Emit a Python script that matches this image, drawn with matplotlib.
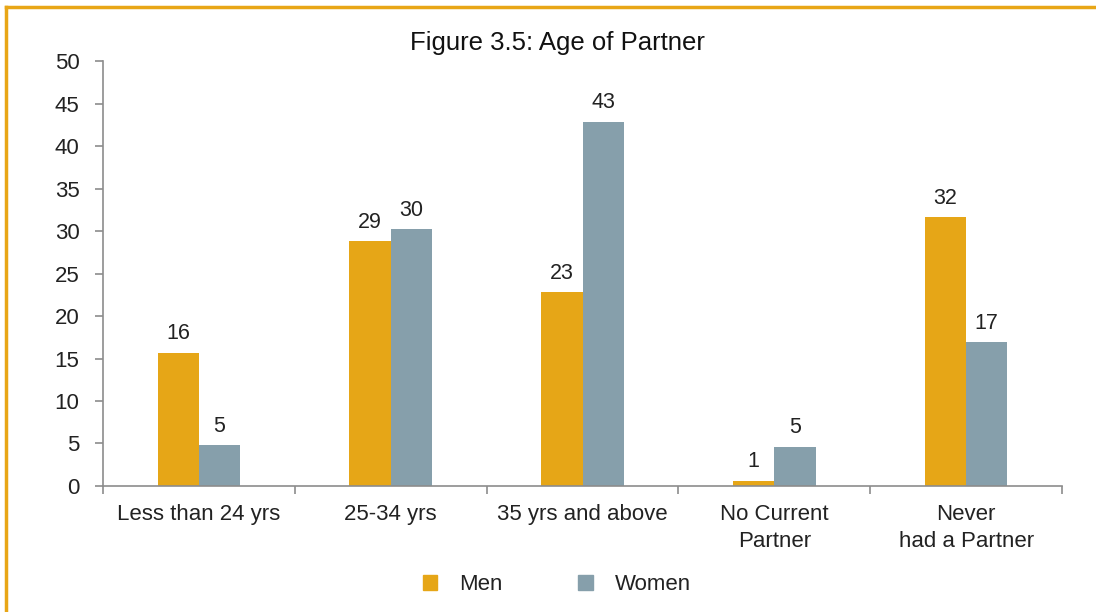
import matplotlib.pyplot as plt
import numpy as np
from matplotlib.lines import Line2D
from matplotlib.patches import Patch

# data
categories = ['Less than 24 yrs', '25-34 yrs', '35 yrs and above', 'No Current\nPartner', 'Never\nhad a Partner']
men = [15.7, 28.8, 22.8, 0.6, 31.6]
women = [4.8, 30.2, 42.9, 4.6, 16.9]
men_labels = ['16', '29', '23', '1', '32']
women_labels = ['5', '30', '43', '5', '17']

men_color = '#E6A617'
women_color = '#869FAB'
axis_color = '#8c8c8c'
text_color = '#222222'

plt.rcParams['font.family'] = ['Liberation Sans', 'DejaVu Sans']

fig = plt.figure(figsize=(10.96, 6.12), dpi=100)
ax = fig.add_axes([0.094, 0.206, 0.875, 0.694])

x = np.arange(len(categories))
w = 0.215
b1 = ax.bar(x - w / 2, men, w, color=men_color, label='Men')
b2 = ax.bar(x + w / 2, women, w, color=women_color, label='Women')

# value labels above the bars
for bars, labs in ((b1, men_labels), (b2, women_labels)):
    for bar, lab in zip(bars, labs):
        ax.text(bar.get_x() + bar.get_width() / 2, bar.get_height() + 1.0, lab,
                ha='center', va='bottom', fontsize=15.5, color=text_color)

ax.set_xlim(-0.5, len(categories) - 0.5)
ax.set_ylim(0, 50)
ax.set_yticks(range(0, 51, 5))
ax.set_xticks(np.arange(-0.5, len(categories), 1.0))
ax.set_xticklabels([])
ax.set_xticks(x, minor=True)
ax.set_xticklabels(categories, minor=True, fontsize=16, color=text_color, linespacing=1.35)
ax.tick_params(axis='x', which='minor', length=0, pad=13)
ax.tick_params(axis='x', which='major', length=6, color=axis_color, width=1.2)
ax.tick_params(axis='y', length=6, color=axis_color, width=1.2, labelsize=16,
               labelcolor=text_color, pad=11)

for s in ['top', 'right']:
    ax.spines[s].set_visible(False)
for s in ['left', 'bottom']:
    ax.spines[s].set_color(axis_color)
    ax.spines[s].set_linewidth(1.2)

fig.text(0.509, 0.93, 'Figure 3.5: Age of Partner', ha='center', va='center',
         fontsize=18.5, color='#111111')

handles = [Patch(color=men_color, label='Men'), Patch(color=women_color, label='Women')]
fig.legend(handles=handles, loc='center', bbox_to_anchor=(0.508, 0.045), ncol=2,
           frameon=False, fontsize=16, handlelength=0.65, handleheight=0.65,
           columnspacing=3.4, handletextpad=1.0, labelcolor=text_color)

# orange frame on the left and top
fig.add_artist(Line2D([0.0055, 0.0055], [0, 0.988], color='#E8A617', lw=2.5,
                      transform=fig.transFigure))
fig.add_artist(Line2D([0.0055, 1], [0.988, 0.988], color='#E8A617', lw=2.5,
                      transform=fig.transFigure))

fig.savefig('out.png', dpi=100)
